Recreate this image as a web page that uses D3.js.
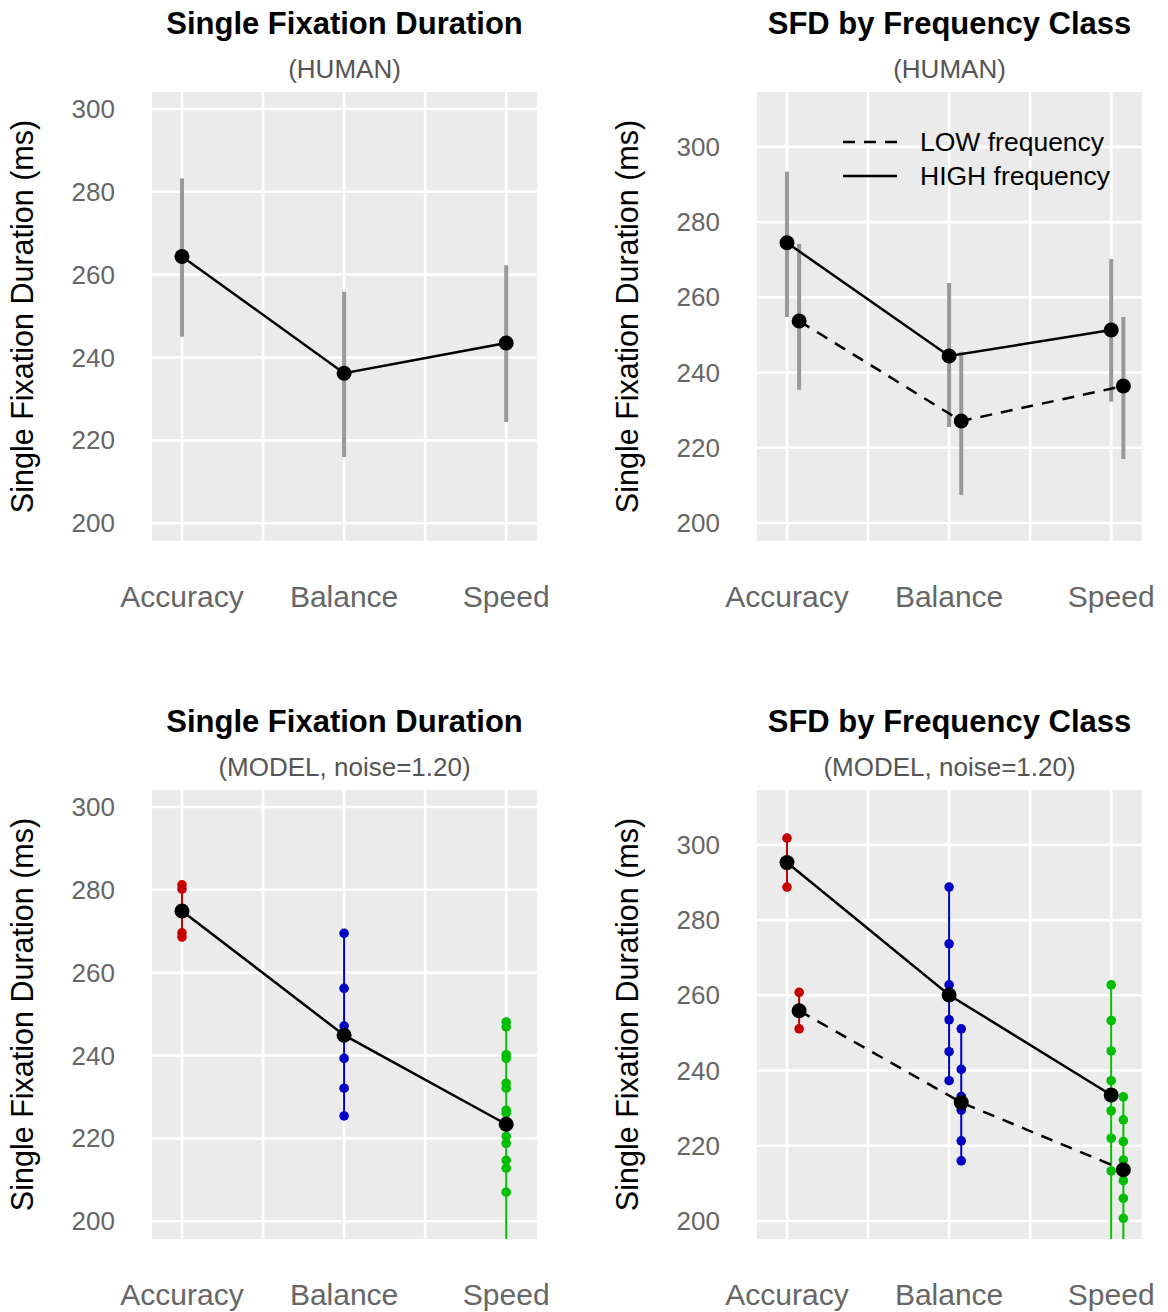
<!DOCTYPE html>
<html>
<head>
<meta charset="utf-8">
<script src="https://cdn.jsdelivr.net/npm/d3@7"></script>
<style>
  body { margin: 0; background: #fff; }
  text { font-family: "Liberation Sans", Arial, Helvetica, sans-serif; }
</style>
</head>
<body>
<div id="chart"></div>
<script>
var categories = ["Accuracy", "Balance", "Speed"];
var yTicks = [200, 220, 240, 260, 280, 300];

// human data: means and error bar limits
var humanMean  = [264.4, 236.2, 243.5];
var humanLower = [245.0, 216.0, 224.4];
var humanUpper = [283.2, 255.9, 262.3];

var humanHighMean  = [274.5, 244.4, 251.3];
var humanHighLower = [254.8, 225.5, 232.2];
var humanHighUpper = [293.4, 263.8, 270.2];
var humanLowMean   = [253.7, 227.1, 236.4];
var humanLowLower  = [235.4, 207.4, 217.0];
var humanLowUpper  = [274.2, 245.5, 254.8];

// model runs (noise=1.20), one array per condition
var modelRunsAccuracy = [281.2, 280.2, 269.6, 268.6];
var modelRunsBalance  = [269.5, 256.2, 247.1, 239.3, 232.1, 225.4];
var modelRunsSpeed    = [248.1, 246.9, 240.2, 239.3, 233.3, 232.1, 226.8, 226.1, 220.5, 218.8, 214.7, 212.8, 207.0, 160.0];
var modelMean = [274.9, 244.9, 223.4];

var modelHighAccuracy = [301.8, 288.8];
var modelHighBalance  = [288.8, 273.7, 262.8, 253.5, 245.0, 237.3];
var modelHighSpeed    = [262.8, 253.3, 245.2, 237.3, 229.3, 222.0, 213.3, 190.0];
var modelHighMean = [295.3, 260.1, 233.5];

var modelLowAccuracy = [260.8, 251.1];
var modelLowBalance  = [251.1, 240.3, 233.1, 229.5, 221.3, 216.0];
var modelLowSpeed    = [233.0, 226.9, 221.1, 216.2, 210.7, 206.0, 200.7, 190.0];
var modelLowMean = [255.9, 231.5, 213.6];

var condColors = ["#C40000", "#0000C4", "#00BE00"];

var W = 385, H = 449;

var svg = d3.select("#chart").append("svg")
    .attr("width", 1168)
    .attr("height", 1312);

var panelCount = 0;

function drawPanel(opts) {
  var g = svg.append("g").attr("transform", "translate(" + opts.left + "," + opts.top + ")");
  var x = d3.scaleLinear().domain([0.815, 3.19]).range([0, W]);
  var y = d3.scaleLinear().domain(opts.yDomain).range([H, 0]);

  var clipId = "clip" + (panelCount++);
  g.append("clipPath").attr("id", clipId)
    .append("rect").attr("width", W).attr("height", H);

  g.append("rect")
    .attr("width", W)
    .attr("height", H)
    .attr("fill", "#EBEBEB");

  // grid
  g.selectAll(".hgrid").data(yTicks).enter().append("line")
    .attr("x1", 0).attr("x2", W)
    .attr("y1", function(d) { return y(d); })
    .attr("y2", function(d) { return y(d); })
    .attr("stroke", "#fff").attr("stroke-width", 2.6);
  g.selectAll(".vgrid").data([1, 1.5, 2, 2.5, 3]).enter().append("line")
    .attr("y1", 0).attr("y2", H)
    .attr("x1", function(d) { return x(d); })
    .attr("x2", function(d) { return x(d); })
    .attr("stroke", "#fff").attr("stroke-width", 2.6);

  // axis labels
  g.selectAll(".ytick").data(yTicks).enter().append("text")
    .attr("x", -37)
    .attr("y", function(d) { return y(d); })
    .attr("dy", "0.35em")
    .attr("text-anchor", "end")
    .attr("font-size", 26)
    .attr("fill", "#666")
    .text(function(d) { return d; });

  g.selectAll(".xtick").data(categories).enter().append("text")
    .attr("x", function(d, i) { return x(i + 1); })
    .attr("y", 515)
    .attr("text-anchor", "middle")
    .attr("font-size", 30)
    .attr("fill", "#666")
    .text(function(d) { return d; });

  g.append("text")
    .attr("transform", "rotate(-90)")
    .attr("x", -H / 2)
    .attr("y", -119)
    .attr("text-anchor", "middle")
    .attr("font-size", 30.5)
    .attr("fill", "#000")
    .text("Single Fixation Duration (ms)");

  g.append("text")
    .attr("x", W / 2).attr("y", -58)
    .attr("text-anchor", "middle")
    .attr("font-size", 31)
    .attr("font-weight", "bold")
    .attr("fill", "#000")
    .text(opts.title);

  g.append("text")
    .attr("x", W / 2).attr("y", -14)
    .attr("text-anchor", "middle")
    .attr("font-size", 26)
    .attr("fill", "#555")
    .text(opts.subtitle);

  var plot = g.append("g").attr("clip-path", "url(#" + clipId + ")");

  var line = d3.line()
    .x(function(d) { return x(d.x); })
    .y(function(d) { return y(d.y); });

  opts.series.forEach(function(s) {
    // human error bars
    if (s.lower) {
      s.mean.forEach(function(m, i) {
        plot.append("line")
          .attr("x1", x(i + 1 + s.dodge)).attr("x2", x(i + 1 + s.dodge))
          .attr("y1", y(s.lower[i])).attr("y2", y(s.upper[i]))
          .attr("stroke", "#999").attr("stroke-width", 4);
      });
    }
    // model runs
    if (s.runs) {
      s.runs.forEach(function(runs, i) {
        var cx = x(i + 1 + s.dodge);
        plot.append("line")
          .attr("x1", cx).attr("x2", cx)
          .attr("y1", y(d3.min(runs))).attr("y2", y(d3.max(runs)))
          .attr("stroke", condColors[i]).attr("stroke-width", 2);
        plot.selectAll(null).data(runs).enter().append("circle")
          .attr("cx", cx)
          .attr("cy", function(d) { return y(d); })
          .attr("r", 4.8)
          .attr("fill", condColors[i]);
      });
    }
  });

  opts.series.forEach(function(s) {
    var pts = s.mean.map(function(m, i) { return { x: i + 1 + s.dodge, y: m }; });
    plot.append("path")
      .attr("d", line(pts))
      .attr("fill", "none")
      .attr("stroke", "#000")
      .attr("stroke-width", 2.5)
      .attr("stroke-dasharray", s.dashed ? "12,9" : null);
    plot.selectAll(null).data(pts).enter().append("circle")
      .attr("cx", function(d) { return x(d.x); })
      .attr("cy", function(d) { return y(d.y); })
      .attr("r", 7.5)
      .attr("fill", "#000");
  });

  if (opts.legend) {
    var leg = g.append("g");
    [["LOW frequency", true, 50], ["HIGH frequency", false, 84]].forEach(function(l) {
      leg.append("line")
        .attr("x1", 86).attr("x2", 140)
        .attr("y1", l[2]).attr("y2", l[2])
        .attr("stroke", "#000").attr("stroke-width", 2.5)
        .attr("stroke-dasharray", l[1] ? "12,9" : null);
      leg.append("text")
        .attr("x", 163).attr("y", l[2])
        .attr("dy", "0.35em")
        .attr("font-size", 26.5)
        .attr("fill", "#000")
        .text(l[0]);
    });
  }
}

drawPanel({
  left: 152, top: 92, yDomain: [195.7, 304.1],
  title: "Single Fixation Duration", subtitle: "(HUMAN)",
  series: [{ mean: humanMean, lower: humanLower, upper: humanUpper, dodge: 0, dashed: false }]
});

drawPanel({
  left: 757, top: 92, yDomain: [195.2, 314.6],
  title: "SFD by Frequency Class", subtitle: "(HUMAN)", legend: true,
  series: [
    { mean: humanHighMean, lower: humanHighLower, upper: humanHighUpper, dodge: 0, dashed: false },
    { mean: humanLowMean, lower: humanLowLower, upper: humanLowUpper, dodge: 0.075, dashed: true }
  ]
});

drawPanel({
  left: 152, top: 790, yDomain: [195.7, 304.1],
  title: "Single Fixation Duration", subtitle: "(MODEL, noise=1.20)",
  series: [{ mean: modelMean, runs: [modelRunsAccuracy, modelRunsBalance, modelRunsSpeed], dodge: 0, dashed: false }]
});

drawPanel({
  left: 757, top: 790, yDomain: [195.2, 314.6],
  title: "SFD by Frequency Class", subtitle: "(MODEL, noise=1.20)",
  series: [
    { mean: modelHighMean, runs: [modelHighAccuracy, modelHighBalance, modelHighSpeed], dodge: 0, dashed: false },
    { mean: modelLowMean, runs: [modelLowAccuracy, modelLowBalance, modelLowSpeed], dodge: 0.075, dashed: true }
  ]
});
</script>
</body>
</html>
